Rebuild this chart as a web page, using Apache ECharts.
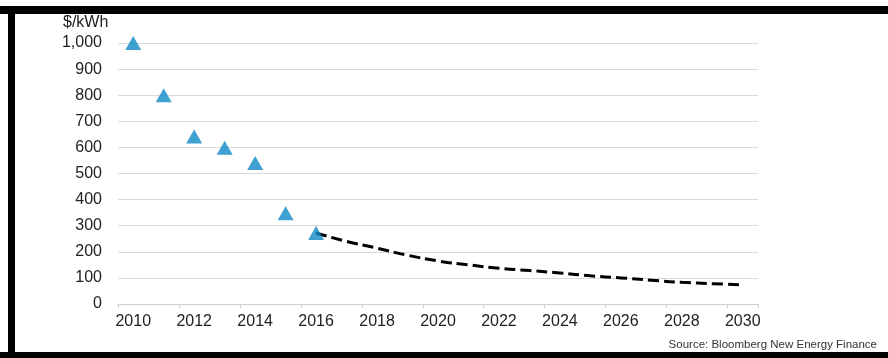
<!DOCTYPE html>
<html>
<head>
<meta charset="utf-8">
<script src="https://cdn.jsdelivr.net/npm/echarts@6/dist/echarts.min.js"></script>
<style>
html,body{margin:0;padding:0;background:#fff;}
#chart{width:888px;height:358px;}
</style>
</head>
<body>
<div id="chart"></div>
<script>
// Years on the category axis
var years = ['2010','2011','2012','2013','2014','2015','2016','2017','2018','2019','2020',
             '2021','2022','2023','2024','2025','2026','2027','2028','2029','2030'];
// Historical battery pack prices ($/kWh), 2010-2016
var histPrices = [1000, 800, 642, 599, 540, 348, 272];
// Forecast (dashed line), 2016-2030
var fcPrices = [272, 240, 214, 187, 165, 150, 137, 128, 119, 108, 100, 91, 83, 78, 73];
var fcStartIndex = 6;
var yTicks = [0, 100, 200, 300, 400, 500, 600, 700, 800, 900, 1000];
var unitLabel = '$/kWh';
var sourceLabel = 'Source: Bloomberg New Energy Finance';

var histData = years.map(function (y, i) { return i < histPrices.length ? histPrices[i] : '-'; });
var fcData = years.map(function (y, i) { return i >= fcStartIndex ? fcPrices[i - fcStartIndex] : '-'; });

var chart = echarts.init(document.getElementById('chart'), null, {renderer: 'canvas'});
var font = 'Liberation Sans, Arial, sans-serif';
chart.setOption({
  animation: false,
  backgroundColor: '#fff',
  grid: {left: 118, right: 130, top: 43, bottom: 54, containLabel: false},
  xAxis: {
    type: 'category', data: years, boundaryGap: true,
    axisLine: {show: true, lineStyle: {color: '#cfcfcf', width: 1}},
    axisTick: {show: true, length: 4, interval: 1, alignWithLabel: false, lineStyle: {color: '#cfcfcf'}},
    axisLabel: {color: '#222', fontSize: 16, fontFamily: font, margin: 10, interval: 1},
    splitLine: {show: false}
  },
  yAxis: {
    type: 'value', min: yTicks[0], max: yTicks[yTicks.length - 1], interval: 100,
    axisLine: {show: false},
    axisTick: {show: false},
    axisLabel: {color: '#222', fontSize: 16, fontFamily: font, margin: 16,
      formatter: function (v) { return v.toLocaleString('en-US'); }},
    splitLine: {show: true, lineStyle: {color: '#dadada', width: 1}}
  },
  graphic: [
    {type: 'rect', shape: {x: 0, y: 6, width: 888, height: 8}, style: {fill: '#000'}, silent: true},
    {type: 'rect', shape: {x: 8, y: 6, width: 7, height: 352}, style: {fill: '#000'}, silent: true},
    {type: 'rect', shape: {x: 0, y: 352, width: 888, height: 6}, style: {fill: '#000'}, silent: true},
    {type: 'text', left: 63, top: 15, style: {text: unitLabel, fill: '#222', font: '16px ' + font}},
    {type: 'text', right: 11, top: 339, style: {text: sourceLabel, fill: '#333', font: '11.5px ' + font}}
  ],
  series: [
    {
      type: 'line', data: fcData,
      smooth: true, symbol: 'none', z: 2,
      lineStyle: {color: '#000', width: 3, type: [11, 5]}
    },
    {
      type: 'scatter', data: histData,
      symbol: 'triangle', symbolSize: [16, 14], z: 3,
      itemStyle: {color: '#0e8ac6'}
    }
  ]
});
</script>
</body>
</html>
